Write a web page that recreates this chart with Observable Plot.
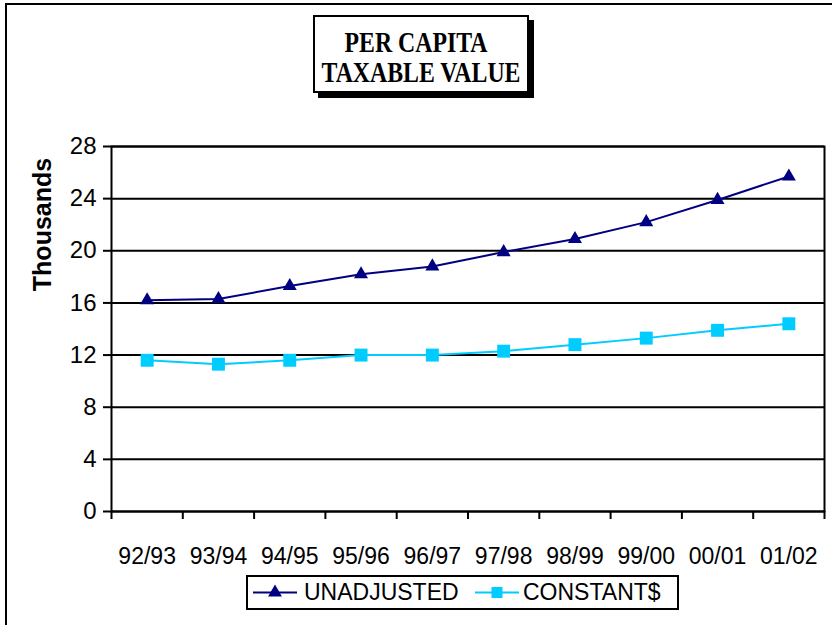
<!DOCTYPE html>
<html><head><meta charset="utf-8">
<script src="https://cdn.jsdelivr.net/npm/d3@7"></script>
<script src="https://cdn.jsdelivr.net/npm/@observablehq/plot@0.6"></script>
<style>
html,body{margin:0;padding:0;background:#fff;overflow:hidden;}
#wrap{position:relative;width:832px;height:625px;overflow:hidden;background:#fff;}
#chart{position:absolute;left:0;top:0;}
#frame{position:absolute;left:5px;top:3px;width:900px;height:900px;border:2px solid #000;box-sizing:border-box;pointer-events:none;}
#title{position:absolute;left:313px;top:15px;width:216px;height:78px;box-sizing:border-box;border:2px solid #000;box-shadow:5px 5px 0 #000;background:#fff;padding-top:10px;font-family:"Liberation Serif","Times New Roman",serif;font-weight:bold;font-size:29px;line-height:30px;text-align:center;color:#000;}
#title div{position:relative;left:-44px;width:300px;transform:scaleX(0.82);transform-origin:center;white-space:nowrap;}
#title div.l1{left:-49px;}
#legend{position:absolute;left:246px;top:575px;width:433px;height:35px;box-sizing:border-box;border:2px solid #000;background:#fff;font-family:Arial,"Liberation Sans",sans-serif;font-size:23px;line-height:31px;color:#000;}
#legend .sym{position:absolute;top:0;}
#legend .lab{position:absolute;top:0;white-space:nowrap;}
</style></head><body>
<div id="wrap"><div id="chart"></div><div id="frame"></div>
<div id="title"><div class="l1">PER CAPITA</div><div>TAXABLE VALUE</div></div>
<div id="legend"></div></div>
<script>
const years = ["92/93","93/94","94/95","95/96","96/97","97/98","98/99","99/00","00/01","01/02"];
const unadjusted = [16.2,16.3,17.3,18.2,18.8,19.9,20.9,22.2,23.9,25.7];
const constantDollars = [11.6,11.3,11.6,12.0,12.0,12.3,12.8,13.3,13.9,14.4];
const yTicks = [0,4,8,12,16,20,24,28];
const seriesNames = ["UNADJUSTED","CONSTANT$"];
const seriesColors = ["#000080","#00CCFF"];
const seriesSymbols = ["triangle","square"];

const rowsU = years.map((y,i)=>({i, year:y, value:unadjusted[i], series:seriesNames[0]}));
const rowsC = years.map((y,i)=>({i, year:y, value:constantDollars[i], series:seriesNames[1]}));
const edges = d3.range(years.length+1).map(i=>i-0.5);
const font = "Arial, 'Liberation Sans', sans-serif";

const chart = Plot.plot({
  width:832, height:625,
  marginLeft:111, marginRight:8, marginTop:146, marginBottom:114,
  style:{fontFamily:font, fontSize:"23px", color:"#000", background:"transparent", overflow:"visible"},
  x:{type:"linear", domain:[-0.5, years.length-0.5]},
  y:{domain:[0,28]},
  marks:[
    Plot.gridY(yTicks, {stroke:"#000", strokeOpacity:1, strokeWidth:2}),
    Plot.frame({stroke:"#000", strokeWidth:2}),
    Plot.axisY(yTicks, {tickSize:8, tickPadding:7, stroke:"#000", strokeWidth:2, fontSize:24, label:null, tickFormat:d=>String(d)}),
    Plot.axisX(edges, {tickSize:8, stroke:"#000", strokeWidth:2, tickFormat:()=>"", label:null}),
    Plot.axisX(d3.range(years.length), {tickSize:0, tickPadding:36, fontSize:23, tickFormat:i=>years[i], label:null}),
    Plot.line(rowsU, {x:"i", y:"value", stroke:seriesColors[0], strokeWidth:2}),
    Plot.line(rowsC, {x:"i", y:"value", stroke:seriesColors[1], strokeWidth:2}),
    Plot.dot(rowsU, {x:"i", y:"value", symbol:()=>seriesSymbols[0], fill:seriesColors[0], r:5.2}),
    Plot.dot(rowsC, {x:"i", y:"value", symbol:()=>seriesSymbols[1], fill:seriesColors[1], r:7.3}),
    Plot.text(["Thousands"], {frameAnchor:"top-left", textAnchor:"middle", lineAnchor:"middle", dx:-69, dy:78, rotate:-90, fontWeight:"bold", fontSize:25, fill:"#000"})
  ]
});
document.getElementById("chart").appendChild(chart);

// legend
const legend = d3.select("#legend");
const items = [
  {name:seriesNames[0], color:seriesColors[0], sym:d3.symbolTriangle, size:83, symX:5, w:44, labX:56},
  {name:seriesNames[1], color:seriesColors[1], sym:d3.symbolSquare, size:121, symX:227, w:44, labX:275}
];
items.forEach(it=>{
  const s = legend.append("svg").attr("class","sym").attr("width",it.w).attr("height",31).style("left",it.symX+"px");
  s.append("line").attr("x1",0).attr("x2",it.w).attr("y1",15.5).attr("y2",15.5).attr("stroke",it.color).attr("stroke-width",2);
  s.append("path").attr("d",d3.symbol(it.sym,it.size)()).attr("transform",`translate(${it.w/2},15.5)`).attr("fill",it.color);
  legend.append("div").attr("class","lab").style("left",it.labX+"px").text(it.name);
});
</script>
</body></html>
